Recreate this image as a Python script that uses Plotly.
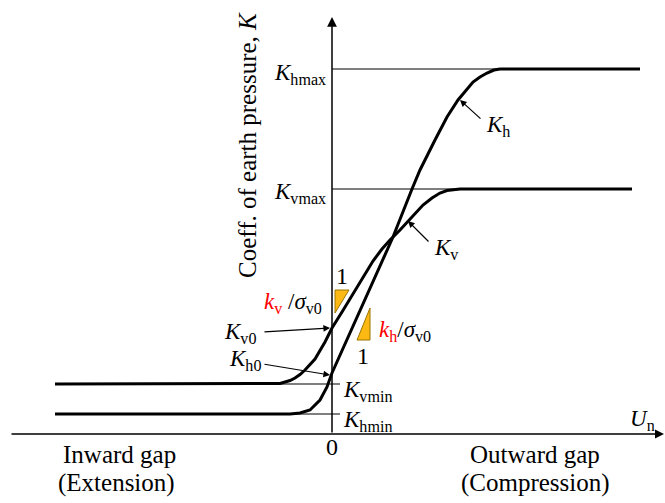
import plotly.graph_objects as go

# ---- schematic data (normalised units) ----
Kh_u = [-2.77, -0.42, -0.32, -0.22, -0.12, -0.05, 0.00, 0.13, 0.23, 0.33, 0.46, 0.61, 0.80, 0.88, 1.03, 1.15, 1.26, 1.34, 1.41, 1.48, 1.55, 1.62, 1.68, 3.08]
Kh_k = [0.20, 0.20, 0.21, 0.24, 0.34, 0.47, 0.61, 0.90, 1.12, 1.35, 1.64, 1.97, 2.45, 2.64, 2.94, 3.17, 3.34, 3.44, 3.52, 3.57, 3.61, 3.64, 3.65, 3.65]

Kv_u = [-2.77, -0.57, -0.52, -0.47, -0.42, -0.37, -0.32, -0.27, -0.17, -0.07, 0.00, 0.10, 0.20, 0.30, 0.41, 0.50, 0.58, 0.68, 0.76, 0.91, 1.00, 1.08, 1.15, 1.21, 1.28, 3.00]
Kv_k = [0.50, 0.50, 0.505, 0.52, 0.535, 0.56, 0.595, 0.64, 0.75, 0.92, 1.06, 1.22, 1.38, 1.55, 1.73, 1.85, 1.94, 2.04, 2.13, 2.29, 2.36, 2.41, 2.435, 2.445, 2.45, 2.45]

K_hmax, K_vmax, K_vmin, K_hmin = 3.65, 2.45, 0.50, 0.20
K_v0, K_h0 = 1.06, 0.59

tri_kv_u = [0.03, 0.17, 0.03, 0.03]
tri_kv_k = [1.44, 1.44, 1.21, 1.44]
tri_kh_u = [0.38, 0.38, 0.25, 0.38]
tri_kh_k = [1.26, 0.94, 0.94, 1.26]

FONT = "Liberation Serif"
BLACK = "#000000"
GOLD = "#FDB913"

fig = go.Figure()

# thin reference lines
fig.add_trace(go.Scatter(x=[0, 3.08], y=[K_hmax, K_hmax], mode="lines", line=dict(color=BLACK, width=1.2), hoverinfo="skip"))
fig.add_trace(go.Scatter(x=[0, 3.00], y=[K_vmax, K_vmax], mode="lines", line=dict(color=BLACK, width=1.2), hoverinfo="skip"))
fig.add_trace(go.Scatter(x=[-2.77, 0.08], y=[K_vmin, K_vmin], mode="lines", line=dict(color=BLACK, width=1.2), hoverinfo="skip"))
fig.add_trace(go.Scatter(x=[-2.77, 0.08], y=[K_hmin, K_hmin], mode="lines", line=dict(color=BLACK, width=1.2), hoverinfo="skip"))

# curves
fig.add_trace(go.Scatter(x=Kh_u, y=Kh_k, mode="lines", line=dict(color=BLACK, width=3), name="Kh"))
fig.add_trace(go.Scatter(x=Kv_u, y=Kv_k, mode="lines", line=dict(color=BLACK, width=3), name="Kv"))

# slope triangles
fig.add_trace(go.Scatter(x=tri_kv_u, y=tri_kv_k, mode="lines", fill="toself", fillcolor=GOLD, line=dict(color="#9a7400", width=1), hoverinfo="skip"))
fig.add_trace(go.Scatter(x=tri_kh_u, y=tri_kh_k, mode="lines", fill="toself", fillcolor=GOLD, line=dict(color="#9a7400", width=1), hoverinfo="skip"))

ann = []

def arrow(x0, y0, x1, y1, size=1.0, width=1.3, head=2):
    ann.append(dict(x=x1, y=y1, ax=x0, ay=y0, xref="x", yref="y", axref="x", ayref="y",
                    text="", showarrow=True, arrowhead=head, arrowsize=size, arrowwidth=width,
                    arrowcolor=BLACK))

def label(x, y, text, size=23, xanchor="center", yanchor="middle", angle=0):
    ann.append(dict(x=x, y=y, xref="x", yref="y", text=text, showarrow=False,
                    xanchor=xanchor, yanchor=yanchor, textangle=angle,
                    font=dict(family=FONT, size=size, color=BLACK)))

# axes
arrow(-3.22, 0, 3.32, 0, size=1.2, width=1.5)
arrow(0, 0, 0, 4.17, size=1.3, width=1.5)

# pointer arrows
arrow(-0.69, 1.02, -0.02, K_v0, size=1.1, width=1.2)
arrow(-0.69, 0.70, -0.02, K_h0, size=1.1, width=1.2)
arrow(1.50, 3.14, 1.28, 3.34, size=1.1, width=1.2)
arrow(0.98, 1.91, 0.76, 2.13, size=1.1, width=1.2)

# labels
label(-0.04, 3.60, "<i>K</i><sub>hmax</sub>", xanchor="right")
label(-0.04, 2.41, "<i>K</i><sub>vmax</sub>", xanchor="right")
label(0.09, 0.43, "<i>K</i><sub>vmin</sub>", xanchor="left")
label(0.09, 0.13, "<i>K</i><sub>hmin</sub>", xanchor="left")
label(-0.74, 1.01, "<i>K</i><sub>v0</sub>", xanchor="right")
label(-0.69, 0.74, "<i>K</i><sub>h0</sub>", xanchor="right")
label(1.52, 3.08, "<i>K</i><sub>h</sub>", xanchor="left")
label(1.00, 1.85, "<i>K</i><sub>v</sub>", xanchor="left")
label(-0.08, 1.31, '<span style="color:#ff0000"><i>k</i><sub>v</sub></span> /<i>σ</i><sub>v0</sub>', xanchor="right")
label(0.45, 1.03, '<span style="color:#ff0000"><i>k</i><sub>h</sub></span>/<i>σ</i><sub>v0</sub>', xanchor="left")
label(0.10, 1.58, "1", size=24)
label(0.31, 0.78, "1", size=24)
label(0.0, -0.13, "0", size=24)
label(3.10, 0.14, "<i>U</i><sub>n</sub>", size=23)
label(-2.13, -0.20, "Inward gap", size=25)
label(-2.16, -0.49, "(Extension)", size=25)
label(2.03, -0.20, "Outward gap", size=25)
label(2.03, -0.49, "(Compression)", size=25)
label(-0.85, 2.89, "Coeff. of earth pressure, <i>K</i>", size=25, angle=-90)

fig.update_layout(
    width=665, height=503,
    margin=dict(l=0, r=0, t=0, b=0),
    paper_bgcolor="white", plot_bgcolor="white",
    showlegend=False,
    annotations=ann,
    xaxis=dict(range=[-3.32, 3.33], visible=False, fixedrange=True),
    yaxis=dict(range=[-0.69, 4.34], visible=False, fixedrange=True),
)

fig.write_html("out.html")
